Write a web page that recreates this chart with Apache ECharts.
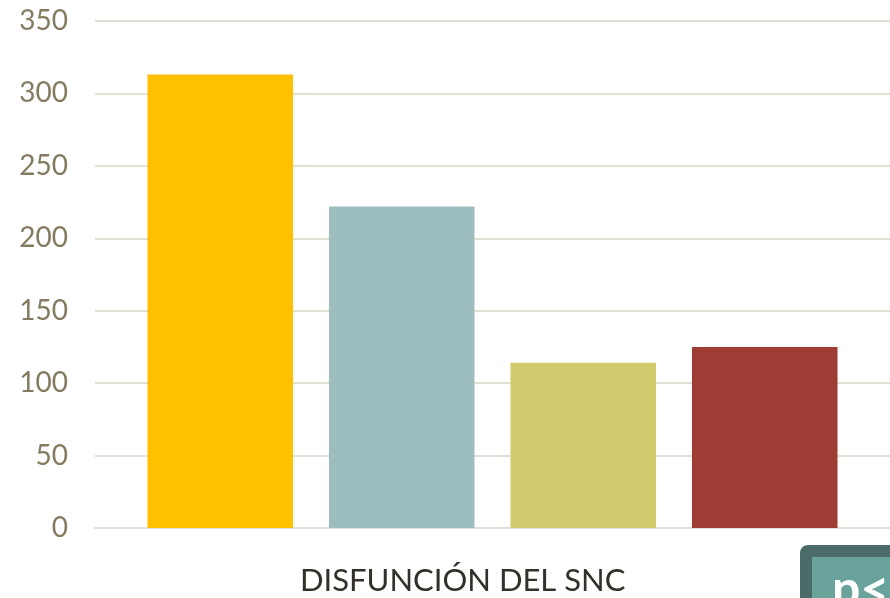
<!DOCTYPE html>
<html>
<head>
<meta charset="utf-8">
<script src="https://cdn.jsdelivr.net/npm/echarts@6/dist/echarts.min.js"></script>
<style>
  html, body { margin: 0; padding: 0; background: #fff; }
  #chart { width: 890px; height: 598px; }
</style>
</head>
<body>
<div id="chart"></div>
<script>
const categories = ['DISFUNCIÓN DEL SNC'];
const seriesNames = ['Serie 1', 'Serie 2', 'Serie 3', 'Serie 4'];
const seriesValues = [313, 222, 114, 125];
const barColors = ['#FFC000', '#9DBEBE', '#D1CB6E', '#9E3D34'];

const chart = echarts.init(document.getElementById('chart'));
const font = 'Lato, "Noto Sans", sans-serif';

const option = {
  animation: false,
  grid: { left: 95, right: 0, top: 21, bottom: 70 },
  xAxis: {
    type: 'category',
    data: categories,
    axisLine: { show: true, lineStyle: { color: '#e2dfd4', width: 2 } },
    axisTick: { show: false },
    axisLabel: { show: false }
  },
  yAxis: {
    type: 'value',
    min: 0,
    max: 350,
    interval: 50,
    axisLine: { show: false },
    axisTick: { show: false },
    splitLine: { lineStyle: { color: '#e2dfd4', width: 2 } },
    axisLabel: { color: '#857b60', fontSize: 28, fontFamily: font, margin: 27 }
  },
  series: seriesValues.map((v, i) => ({
    name: seriesNames[i],
    type: 'bar',
    data: [v],
    barGap: '24.7%',
    barCategoryGap: '13.2%',
    itemStyle: { color: barColors[i] }
  })),
  graphic: [
    {
      type: 'text',
      left: 300,
      top: 565,
      style: { text: categories[0], fill: '#33302a', fontSize: 31, fontFamily: font }
    },
    {
      type: 'rect',
      shape: { x: 800, y: 545, width: 120, height: 80, r: 8 },
      style: { fill: '#4a6b68' }
    },
    {
      type: 'rect',
      shape: { x: 812, y: 557, width: 110, height: 60 },
      style: { fill: '#6aa39c' }
    },
    {
      type: 'text',
      left: 832,
      top: 565,
      style: { text: 'p<', fill: '#ffffff', fontSize: 50, fontWeight: 'bold', fontFamily: font }
    }
  ]
};
chart.setOption(option);
</script>
</body>
</html>
